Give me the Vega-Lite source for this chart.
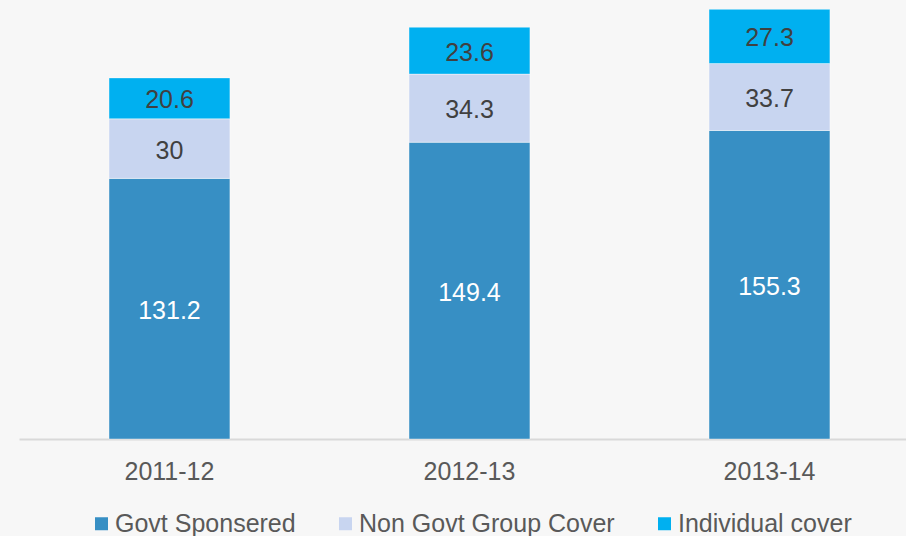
{
  "$schema": "https://vega.github.io/schema/vega-lite/v6.json",
  "width": 887,
  "height": 437,
  "autosize": {"type": "none"},
  "padding": {"left": 19, "top": 2, "right": 0, "bottom": 97},
  "background": "#f7f7f7",
  "config": {
    "view": {"stroke": null},
    "font": "Liberation Sans"
  },
  "data": {
    "values": [
      {"year": "2011-12", "series": "Govt Sponsered", "k": 1, "value": 131.2},
      {"year": "2011-12", "series": "Non Govt Group Cover", "k": 2, "value": 30},
      {"year": "2011-12", "series": "Individual cover", "k": 3, "value": 20.6},
      {"year": "2012-13", "series": "Govt Sponsered", "k": 1, "value": 149.4},
      {"year": "2012-13", "series": "Non Govt Group Cover", "k": 2, "value": 34.3},
      {"year": "2012-13", "series": "Individual cover", "k": 3, "value": 23.6},
      {"year": "2013-14", "series": "Govt Sponsered", "k": 1, "value": 155.3},
      {"year": "2013-14", "series": "Non Govt Group Cover", "k": 2, "value": 33.7},
      {"year": "2013-14", "series": "Individual cover", "k": 3, "value": 27.3}
    ]
  },
  "transform": [
    {"stack": "value", "groupby": ["year"], "sort": [{"field": "k", "order": "ascending"}], "as": ["v0", "v1"]},
    {"calculate": "(datum.v0 + datum.v1) / 2", "as": "mid"}
  ],
  "encoding": {
    "x": {
      "field": "year",
      "type": "nominal",
      "scale": {"paddingInner": 0.597, "paddingOuter": 0.2768, "align": 0.542},
      "axis": {
        "title": null,
        "labelAngle": 0,
        "labelFontSize": 25,
        "labelColor": "#595959",
        "labelPadding": 20,
        "ticks": false,
        "domainColor": "#d9d9d9",
        "domainWidth": 2,
        "grid": false
      }
    }
  },
  "layer": [
    {
      "mark": {"type": "bar", "stroke": "#ffffff", "strokeOpacity": 0.4, "strokeWidth": 1},
      "encoding": {
        "y": {"field": "v0", "type": "quantitative", "scale": {"domain": [0, 220], "nice": false}, "axis": null},
        "y2": {"field": "v1"},
        "color": {
          "field": "series",
          "type": "nominal",
          "scale": {
            "domain": ["Govt Sponsered", "Non Govt Group Cover", "Individual cover"],
            "range": ["#378fc4", "#c8d5f0", "#00b0f0"]
          },
          "legend": {
            "title": null,
            "orient": "none",
            "direction": "horizontal",
            "legendX": 70,
            "legendY": 509,
            "symbolType": "square",
            "symbolSize": 169,
            "symbolStrokeWidth": 0,
            "labelFontSize": 25,
            "labelColor": "#595959",
            "labelOffset": 1,
            "labelLimit": 0,
            "columnPadding": 37
          }
        }
      }
    },
    {
      "mark": {"type": "text", "fontSize": 25, "baseline": "middle", "align": "center", "dy": 2},
      "encoding": {
        "y": {"field": "mid", "type": "quantitative"},
        "text": {"field": "value", "type": "quantitative"},
        "color": {
          "condition": {"test": "datum.series === 'Govt Sponsered'", "value": "#ffffff"},
          "value": "#404040"
        }
      }
    }
  ]
}
